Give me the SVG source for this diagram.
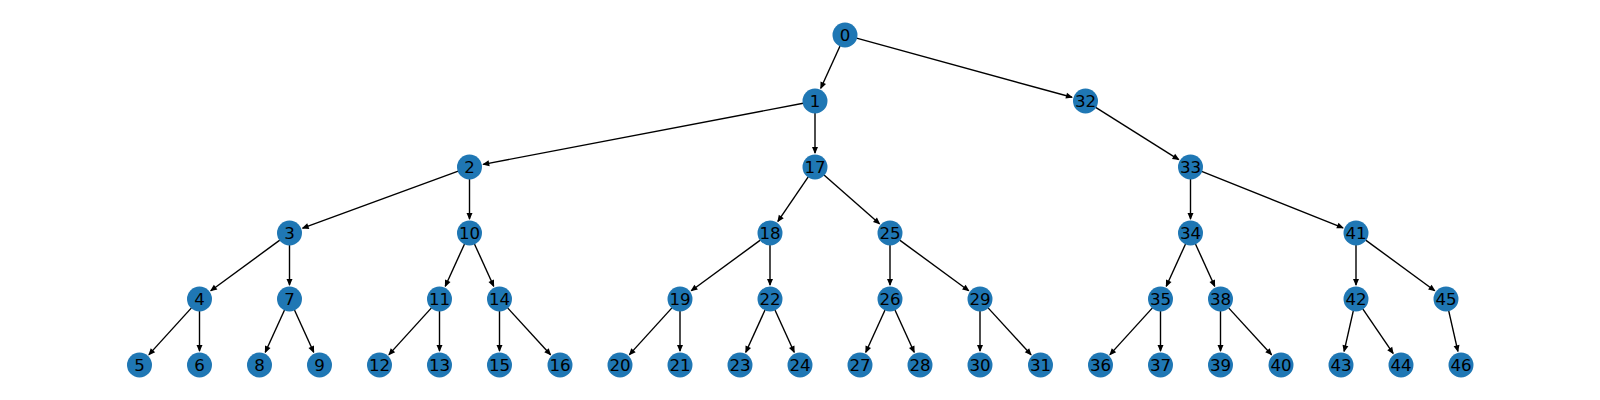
<svg xmlns="http://www.w3.org/2000/svg" width="1600" height="400" viewBox="0 0 1600 400">
<style>
.e{stroke:#000;stroke-width:1.4;fill:none;marker-end:url(#ah)}
.n circle{fill:#1f77b4}
.n text{font-family:"DejaVu Sans","Liberation Sans",sans-serif;font-size:16.67px;text-anchor:middle;fill:#000}
</style>
<defs>
<marker id="ah" markerUnits="userSpaceOnUse" markerWidth="8" markerHeight="7" refX="6" refY="3" orient="auto" overflow="visible">
<path d="M0,0 L7,3 L0,6 z" fill="#000"/>
</marker>
</defs>
<rect width="1600" height="400" fill="#fff"/>
<g id="edges">
<line class="e" x1="840.03" y1="45.92" x2="820.79" y2="88.26"/>
<line class="e" x1="856.57" y1="38.18" x2="1072.0" y2="97.30"/>
<line class="e" x1="803.21" y1="103.25" x2="483.25" y2="164.37"/>
<line class="e" x1="815" y1="113" x2="815" y2="153"/>
<line class="e" x1="1095.66" y1="107.39" x2="1178.65" y2="159.55"/>
<line class="e" x1="458.23" y1="171.13" x2="302.64" y2="228.18"/>
<line class="e" x1="469.5" y1="179" x2="469.5" y2="219"/>
<line class="e" x1="808.24" y1="176.91" x2="777.89" y2="221.43"/>
<line class="e" x1="824.01" y1="174.93" x2="879.49" y2="223.75"/>
<line class="e" x1="1190.5" y1="179" x2="1190.5" y2="219"/>
<line class="e" x1="1201.65" y1="171.44" x2="1343.0" y2="227.81"/>
<line class="e" x1="279.82" y1="240.10" x2="210.79" y2="290.72"/>
<line class="e" x1="289.5" y1="245" x2="289.5" y2="285"/>
<line class="e" x1="464.53" y1="243.92" x2="445.29" y2="286.26"/>
<line class="e" x1="474.47" y1="243.92" x2="493.71" y2="286.26"/>
<line class="e" x1="760.32" y1="240.10" x2="691.29" y2="290.72"/>
<line class="e" x1="770" y1="245" x2="770" y2="285"/>
<line class="e" x1="890" y1="245" x2="890" y2="285"/>
<line class="e" x1="899.68" y1="240.10" x2="968.71" y2="290.72"/>
<line class="e" x1="1185.53" y1="243.92" x2="1166.29" y2="286.26"/>
<line class="e" x1="1195.47" y1="243.92" x2="1214.71" y2="286.26"/>
<line class="e" x1="1356" y1="245" x2="1356" y2="285"/>
<line class="e" x1="1365.68" y1="240.10" x2="1434.71" y2="290.72"/>
<line class="e" x1="191.43" y1="307.88" x2="148.92" y2="354.64"/>
<line class="e" x1="199.5" y1="311" x2="199.5" y2="351"/>
<line class="e" x1="284.53" y1="309.92" x2="265.29" y2="352.26"/>
<line class="e" x1="294.47" y1="309.92" x2="313.71" y2="352.26"/>
<line class="e" x1="431.43" y1="307.88" x2="388.92" y2="354.64"/>
<line class="e" x1="439.5" y1="311" x2="439.5" y2="351"/>
<line class="e" x1="499.5" y1="311" x2="499.5" y2="351"/>
<line class="e" x1="507.61" y1="307.85" x2="550.54" y2="354.68"/>
<line class="e" x1="671.93" y1="307.88" x2="629.42" y2="354.64"/>
<line class="e" x1="680" y1="311" x2="680" y2="351"/>
<line class="e" x1="765.03" y1="309.92" x2="745.79" y2="352.26"/>
<line class="e" x1="774.97" y1="309.92" x2="794.21" y2="352.26"/>
<line class="e" x1="885.03" y1="309.92" x2="865.79" y2="352.26"/>
<line class="e" x1="894.97" y1="309.92" x2="914.21" y2="352.26"/>
<line class="e" x1="980" y1="311" x2="980" y2="351"/>
<line class="e" x1="988.11" y1="307.85" x2="1031.04" y2="354.68"/>
<line class="e" x1="1152.43" y1="307.88" x2="1109.92" y2="354.64"/>
<line class="e" x1="1160.5" y1="311" x2="1160.5" y2="351"/>
<line class="e" x1="1220.5" y1="311" x2="1220.5" y2="351"/>
<line class="e" x1="1228.61" y1="307.85" x2="1271.54" y2="354.68"/>
<line class="e" x1="1353.34" y1="310.70" x2="1344.10" y2="351.35"/>
<line class="e" x1="1362.76" y1="308.91" x2="1393.11" y2="353.43"/>
<line class="e" x1="1448.66" y1="310.70" x2="1457.90" y2="351.35"/>
</g>
<g id="n0" class="n"><circle cx="845" cy="35" r="12.5"/><text x="845" y="41">0</text></g>
<g id="n1" class="n"><circle cx="815" cy="101" r="12.5"/><text x="815" y="107">1</text></g>
<g id="n32" class="n"><circle cx="1085.5" cy="101" r="12.5"/><text x="1085.5" y="107">32</text></g>
<g id="n2" class="n"><circle cx="469.5" cy="167" r="12.5"/><text x="469.5" y="173">2</text></g>
<g id="n17" class="n"><circle cx="815" cy="167" r="12.5"/><text x="815" y="173">17</text></g>
<g id="n33" class="n"><circle cx="1190.5" cy="167" r="12.5"/><text x="1190.5" y="173">33</text></g>
<g id="n3" class="n"><circle cx="289.5" cy="233" r="12.5"/><text x="289.5" y="239">3</text></g>
<g id="n10" class="n"><circle cx="469.5" cy="233" r="12.5"/><text x="469.5" y="239">10</text></g>
<g id="n18" class="n"><circle cx="770" cy="233" r="12.5"/><text x="770" y="239">18</text></g>
<g id="n25" class="n"><circle cx="890" cy="233" r="12.5"/><text x="890" y="239">25</text></g>
<g id="n34" class="n"><circle cx="1190.5" cy="233" r="12.5"/><text x="1190.5" y="239">34</text></g>
<g id="n41" class="n"><circle cx="1356" cy="233" r="12.5"/><text x="1356" y="239">41</text></g>
<g id="n4" class="n"><circle cx="199.5" cy="299" r="12.5"/><text x="199.5" y="305">4</text></g>
<g id="n7" class="n"><circle cx="289.5" cy="299" r="12.5"/><text x="289.5" y="305">7</text></g>
<g id="n11" class="n"><circle cx="439.5" cy="299" r="12.5"/><text x="439.5" y="305">11</text></g>
<g id="n14" class="n"><circle cx="499.5" cy="299" r="12.5"/><text x="499.5" y="305">14</text></g>
<g id="n19" class="n"><circle cx="680" cy="299" r="12.5"/><text x="680" y="305">19</text></g>
<g id="n22" class="n"><circle cx="770" cy="299" r="12.5"/><text x="770" y="305">22</text></g>
<g id="n26" class="n"><circle cx="890" cy="299" r="12.5"/><text x="890" y="305">26</text></g>
<g id="n29" class="n"><circle cx="980" cy="299" r="12.5"/><text x="980" y="305">29</text></g>
<g id="n35" class="n"><circle cx="1160.5" cy="299" r="12.5"/><text x="1160.5" y="305">35</text></g>
<g id="n38" class="n"><circle cx="1220.5" cy="299" r="12.5"/><text x="1220.5" y="305">38</text></g>
<g id="n42" class="n"><circle cx="1356" cy="299" r="12.5"/><text x="1356" y="305">42</text></g>
<g id="n45" class="n"><circle cx="1446" cy="299" r="12.5"/><text x="1446" y="305">45</text></g>
<g id="n5" class="n"><circle cx="139.5" cy="365" r="12.5"/><text x="139.5" y="371">5</text></g>
<g id="n6" class="n"><circle cx="199.5" cy="365" r="12.5"/><text x="199.5" y="371">6</text></g>
<g id="n8" class="n"><circle cx="259.5" cy="365" r="12.5"/><text x="259.5" y="371">8</text></g>
<g id="n9" class="n"><circle cx="319.5" cy="365" r="12.5"/><text x="319.5" y="371">9</text></g>
<g id="n12" class="n"><circle cx="379.5" cy="365" r="12.5"/><text x="379.5" y="371">12</text></g>
<g id="n13" class="n"><circle cx="439.5" cy="365" r="12.5"/><text x="439.5" y="371">13</text></g>
<g id="n15" class="n"><circle cx="499.5" cy="365" r="12.5"/><text x="499.5" y="371">15</text></g>
<g id="n16" class="n"><circle cx="560" cy="365" r="12.5"/><text x="560" y="371">16</text></g>
<g id="n20" class="n"><circle cx="620" cy="365" r="12.5"/><text x="620" y="371">20</text></g>
<g id="n21" class="n"><circle cx="680" cy="365" r="12.5"/><text x="680" y="371">21</text></g>
<g id="n23" class="n"><circle cx="740" cy="365" r="12.5"/><text x="740" y="371">23</text></g>
<g id="n24" class="n"><circle cx="800" cy="365" r="12.5"/><text x="800" y="371">24</text></g>
<g id="n27" class="n"><circle cx="860" cy="365" r="12.5"/><text x="860" y="371">27</text></g>
<g id="n28" class="n"><circle cx="920" cy="365" r="12.5"/><text x="920" y="371">28</text></g>
<g id="n30" class="n"><circle cx="980" cy="365" r="12.5"/><text x="980" y="371">30</text></g>
<g id="n31" class="n"><circle cx="1040.5" cy="365" r="12.5"/><text x="1040.5" y="371">31</text></g>
<g id="n36" class="n"><circle cx="1100.5" cy="365" r="12.5"/><text x="1100.5" y="371">36</text></g>
<g id="n37" class="n"><circle cx="1160.5" cy="365" r="12.5"/><text x="1160.5" y="371">37</text></g>
<g id="n39" class="n"><circle cx="1220.5" cy="365" r="12.5"/><text x="1220.5" y="371">39</text></g>
<g id="n40" class="n"><circle cx="1281" cy="365" r="12.5"/><text x="1281" y="371">40</text></g>
<g id="n43" class="n"><circle cx="1341" cy="365" r="12.5"/><text x="1341" y="371">43</text></g>
<g id="n44" class="n"><circle cx="1401" cy="365" r="12.5"/><text x="1401" y="371">44</text></g>
<g id="n46" class="n"><circle cx="1461" cy="365" r="12.5"/><text x="1461" y="371">46</text></g>
</svg>
